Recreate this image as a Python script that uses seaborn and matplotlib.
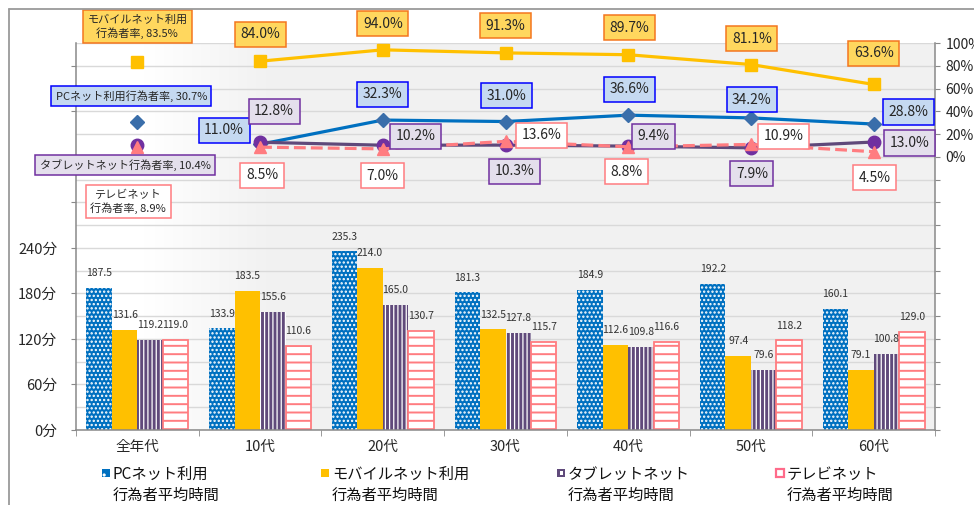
import numpy as np
import pandas as pd
import matplotlib
matplotlib.use("Agg")
import matplotlib.pyplot as plt
import matplotlib.patches as mpatches
from matplotlib.lines import Line2D
import seaborn as sns

# ── Style ─────────────────────────────────────────────────────────────────────
sns.set_style("white")
plt.rcParams["font.family"] = ["Noto Sans CJK JP", "DejaVu Sans"]
plt.rcParams["hatch.linewidth"] = 1.1

W, H, DPI = 974, 505, 100

# ── Data ──────────────────────────────────────────────────────────────────────
categories = ["全年代", "10代", "20代", "30代", "40代", "50代", "60代"]

pc_time     = [187.5, 133.9, 235.3, 181.3, 184.9, 192.2, 160.1]
mobile_time = [131.6, 183.5, 214.0, 132.5, 112.6, 97.4, 79.1]
tablet_time = [119.2, 155.6, 165.0, 127.8, 109.8, 79.6, 100.8]
tv_time     = [119.0, 110.6, 130.7, 115.7, 116.6, 118.2, 129.0]

pc_rate     = [30.7, 11.0, 32.3, 31.0, 36.6, 34.2, 28.8]
mobile_rate = [83.5, 84.0, 94.0, 91.3, 89.7, 81.1, 63.6]
tablet_rate = [10.4, 12.8, 10.2, 10.3, 9.4, 7.9, 13.0]
tv_rate     = [8.9, 8.5, 7.0, 13.6, 8.8, 10.9, 4.5]

time_series = ["PCネット利用\n行為者平均時間", "モバイルネット利用\n行為者平均時間",
               "タブレットネット\n行為者平均時間", "テレビネット\n行為者平均時間"]
rate_names  = ["PCネット利用行為者率", "モバイルネット利用\n行為者率",
               "タブレットネット行為者率", "テレビネット\n行為者率"]

left_ticks  = [0, 60, 120, 180, 240]
right_ticks = [0, 20, 40, 60, 80, 100]

COLORS = {
    "pc": "#0070C0", "mobile": "#FFC000", "tablet": "#604A7B", "tv": "#FF7C80",
}

df = pd.DataFrame({
    "category": categories * 4,
    "series": np.repeat(time_series, len(categories)),
    "value": pc_time + mobile_time + tablet_time + tv_time,
})

# ── Figure ────────────────────────────────────────────────────────────────────
fig = plt.figure(figsize=(W / DPI, H / DPI), dpi=DPI)
ax = fig.add_axes([76 / W, (H - 430) / H, 859 / W, 387 / H])

# background: white on the left fading into light gray
t = np.linspace(0, 1, 400)
shade = 1 - (1 - 0.949) * np.clip((t - 0.08) / 0.14, 0, 1)
grad = np.dstack([shade, shade, shade])
ax.imshow(grad, extent=[0, 1, 0, 1], transform=ax.transAxes,
          aspect="auto", zorder=-2, interpolation="bilinear")

sns.barplot(data=df, x="category", y="value", hue="series", ax=ax,
            hue_order=time_series, order=categories, width=0.83,
            errorbar=None, saturation=1, legend=False,
            palette=[COLORS["pc"], COLORS["mobile"], COLORS["tablet"], "white"])

styles = [
    dict(fc=COLORS["pc"], ec="white", lw=0, hatch="....", hlw=1.1),
    dict(fc=COLORS["mobile"], ec=COLORS["mobile"], lw=0, hatch=None, hlw=1.0),
    dict(fc=COLORS["tablet"], ec="white", lw=0, hatch="||||", hlw=0.9),
    dict(fc="white", ec=COLORS["tv"], lw=1.3, hatch="--", hlw=1.4),
]
for cont, st in zip(ax.containers, styles):
    for bar in cont:
        bar.set_facecolor(st["fc"])
        bar.set_edgecolor(st["ec"])
        bar.set_linewidth(st["lw"])
        bar.set_hatch(st["hatch"])
        if hasattr(bar, "set_hatch_linewidth"):
            bar.set_hatch_linewidth(st["hlw"])
    ax.bar_label(cont, fmt="%.1f", padding=7, fontsize=7.5, color="#333333")

ax.set_xlim(-0.5, 6.5)
ax.set_ylim(0, 510)
ax.set_xlabel("")
ax.set_ylabel("")
ax.set_yticks(list(range(0, 481, 60)))
ax.set_yticklabels([f"{v}分" if v in left_ticks else "" for v in range(0, 481, 60)],
                   fontsize=10.5)
ax.set_yticks(list(range(30, 511, 60)), minor=True)
ax.set_xticks(range(len(categories)))
ax.set_xticklabels(categories, fontsize=10.5)
ax.set_xticks(np.arange(-0.5, 7, 1), minor=True)
ax.tick_params(axis="y", which="major", length=3.6, color="#898989", pad=10, direction="out", left=True)
ax.tick_params(axis="y", which="minor", length=0)
ax.tick_params(axis="x", which="major", length=0, pad=7)
ax.tick_params(axis="x", which="minor", length=4.3, color="#898989", direction="out", bottom=True)
ax.set_axisbelow(True)
ax.grid(axis="y", which="both", color="#d9d9d9", lw=1)
for s in ["top", "right"]:
    ax.spines[s].set_visible(False)
for s in ["left", "bottom"]:
    ax.spines[s].set_color("#898989")
    ax.spines[s].set_linewidth(1.1)

# ── Rates on the right axis ───────────────────────────────────────────────────
ax2 = ax.twinx()
x_idx = np.arange(len(categories))

line_styles = [
    (pc_rate, dict(color=COLORS["pc"], marker="D", ms=7.5, mfc="#3A6EAA", mec="#3A6EAA", ls="-")),
    (mobile_rate, dict(color=COLORS["mobile"], marker="s", ms=9, mfc=COLORS["mobile"], mec=COLORS["mobile"], ls="-")),
    (tablet_rate, dict(color="#5F497A", marker="o", ms=9, mfc="#7030A0", mec="#7030A0", ls="-")),
    (tv_rate, dict(color=COLORS["tv"], marker="^", ms=9, mfc=COLORS["tv"], mec=COLORS["tv"], ls="--")),
]
for vals, st in line_styles:
    ax2.plot(x_idx[1:], vals[1:], lw=2.3, **st)
    st0 = dict(st)
    st0["ls"] = "none"
    ax2.plot(x_idx[:1], vals[:1], **st0)

ax2.set_ylim(-240, 100)
ax2.set_yticks(list(range(-240, 101, 20)))
ax2.set_yticklabels([f"{v}%" if v in right_ticks else "" for v in range(-240, 101, 20)],
                    fontsize=10)
ax2.tick_params(axis="y", length=3.6, color="#898989", direction="out", pad=4)
for s in ["top", "left", "bottom"]:
    ax2.spines[s].set_visible(False)
ax2.spines["right"].set_color("#898989")
ax2.spines["right"].set_linewidth(1.1)

# label boxes: (face, edge, offsets in pixels per category)
box_styles = [
    (pc_rate, "#C5D9F1", "#0000FF",
     [(-6, 26), (-36, 14), (0, 26), (1, 26), (1, 26), (1, 18), (35, 12)]),
    (mobile_rate, "#FFD75E", "#F4761F",
     [(0, 35), (0, 27), (0, 26), (0, 27), (1, 27), (1, 26), (0, 31)]),
    (tablet_rate, "#E4DFEC", "#7030A0",
     [(-12, -20), (14, 31), (33, 9), (9, -26), (25, 10), (1, -26), (36, -1)]),
    (tv_rate, "white", "#FF7C80",
     [(-9, -55), (2, -28), (0, -27), (36, 6), (-2, -25), (33, 8), (1, -26)]),
]
for (vals, fc, ec, offs), name in zip(box_styles, rate_names):
    for i, (v, (dx, dy)) in enumerate(zip(vals, offs)):
        if i == 0:
            txt, fs = f"{name}, {v}%", 8
        else:
            txt, fs = f"{v:.1f}%", 10
        ax2.annotate(txt, xy=(i, v), xytext=(dx, dy), textcoords="offset pixels",
                     ha="center", va="center", fontsize=fs, multialignment="center",
                     bbox=dict(boxstyle="square,pad=0.4", fc=fc, ec=ec, lw=1.1),
                     zorder=5)

# ── Legend (manual, two-line labels) ──────────────────────────────────────────
legend_x = [102, 321, 557, 776]
for x0, label, key in zip(legend_x, time_series, ["pc", "mobile", "tablet", "tv"]):
    fx, fy = x0 / W, (H - 477) / H
    fw, fh = 8 / W, 8 / H
    if key == "pc":
        p = mpatches.Rectangle((fx, fy), fw, fh, transform=fig.transFigure,
                               fc=COLORS["pc"], ec="white", lw=0, hatch="..")
    elif key == "mobile":
        p = mpatches.Rectangle((fx, fy), fw, fh, transform=fig.transFigure,
                               fc=COLORS["mobile"], lw=0)
    elif key == "tablet":
        p = mpatches.Rectangle((fx, fy), fw, fh, transform=fig.transFigure,
                               fc=COLORS["tablet"], lw=0)
        fig.add_artist(p)
        p = mpatches.Rectangle(((x0 + 3) / W, (H - 475) / H), 2.5 / W, 4 / H,
                               transform=fig.transFigure, fc="white", lw=0)
    else:
        p = mpatches.Rectangle((fx, fy), fw, fh, transform=fig.transFigure,
                               fc="white", ec="#FF6B8A", lw=1.6)
    fig.add_artist(p)
    # va="baseline" anchors the last line of a multi-line text
    fig.text((x0 + 11) / W, (H - 500) / H, label, fontsize=11, va="baseline",
             ha="left", linespacing=1.35, color="#111111")

# outer frame
fig.add_artist(Line2D([9 / W, 9 / W], [0, (H - 9) / H], transform=fig.transFigure,
                      color="#9a9a9a", lw=1.3))
fig.add_artist(Line2D([9 / W, 1], [(H - 9) / H, (H - 9) / H], transform=fig.transFigure,
                      color="#9a9a9a", lw=1.3))

fig.savefig("out.png", dpi=DPI)
